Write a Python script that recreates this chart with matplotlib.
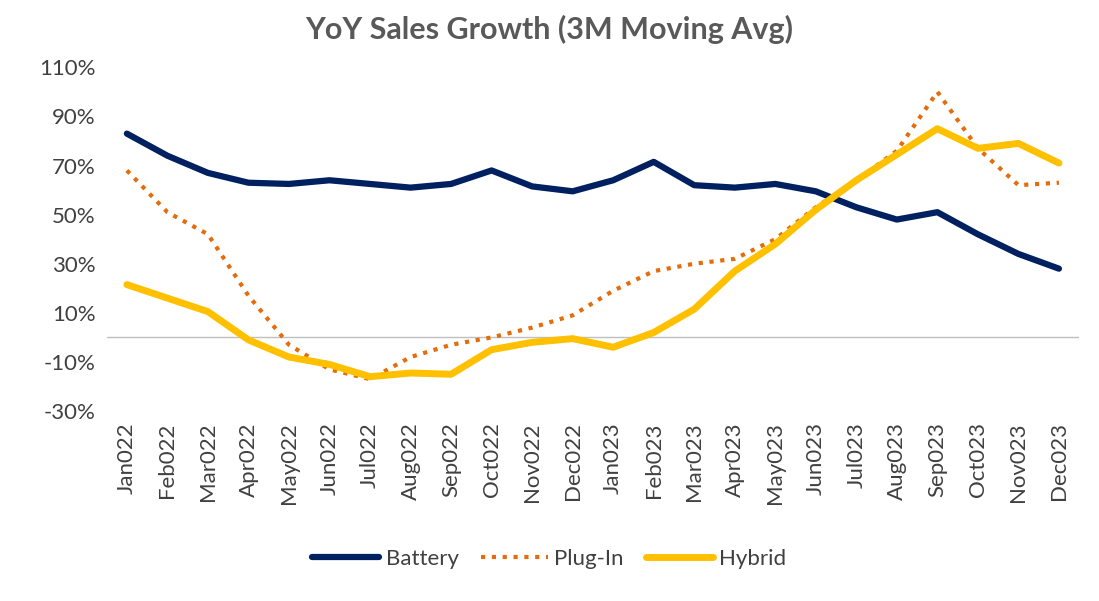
import matplotlib.pyplot as plt
import numpy as np

plt.rcParams['font.family'] = ['Lato', 'DejaVu Sans']

months = ["Jan022", "Feb022", "Mar022", "Apr022", "May022", "Jun022", "Jul022", "Aug022",
          "Sep022", "Oct022", "Nov022", "Dec022", "Jan023", "Feb023", "Mar023", "Apr023",
          "May023", "Jun023", "Jul023", "Aug023", "Sep023", "Oct023", "Nov023", "Dec023"]
battery = [83, 74, 67, 63, 62.5, 64, 62.5, 61, 62.5, 68, 61.5, 59.5,
           64, 71.5, 62, 61, 62.5, 59.5, 53, 48, 51, 42, 34, 28]
plugin = [68, 51, 42, 17, -3, -13, -17, -8, -3, 0, 4, 9,
          19, 27, 30, 32, 40, 53, 64, 76, 100, 77, 62, 63]
hybrid = [21.5, 16, 10.5, -1, -8, -11, -16, -14.5, -15, -5, -2, -0.5,
          -4, 2, 11.5, 27, 38, 52, 64, 74.5, 85, 77, 79, 71]

fig = plt.figure(figsize=(10.99, 6.01), dpi=100)
ax = fig.add_axes([0.097, 0.316, 0.885, 0.572])
x = np.arange(len(months))

ax.plot(x, battery, color="#002060", lw=4.5, label="Battery", solid_capstyle="round")
ax.plot(x, plugin, color="#E46C0A", lw=3, ls=(0, (1, 1.6)), label="Plug-In")
ax.plot(x, hybrid, color="#FFC000", lw=5, label="Hybrid", solid_capstyle="round")
ax.axhline(0, color="#BFBFBF", lw=1, zorder=0)

ax.set_xlim(-0.5, len(months) - 0.5)
ax.set_ylim(-30, 110)
ax.set_yticks(np.arange(-30, 111, 20))
ax.set_yticklabels([f"{v}%" for v in range(-30, 111, 20)], fontsize=16, color="#404040")
ax.set_xticks(x)
ax.set_xticklabels(months, rotation=90, fontsize=16, color="#404040")
ax.tick_params(length=0, pad=8)
for s in ax.spines.values():
    s.set_visible(False)

fig.suptitle("YoY Sales Growth (3M Moving Avg)", fontsize=22, fontweight="bold",
             color="#595959", y=0.975)
fig.legend(loc="lower center", ncol=3, frameon=False, fontsize=16, bbox_to_anchor=(0.5, 0.02),
           handlelength=3, columnspacing=1.0, handletextpad=0.3, labelcolor="#404040")
fig.savefig("out.png")
